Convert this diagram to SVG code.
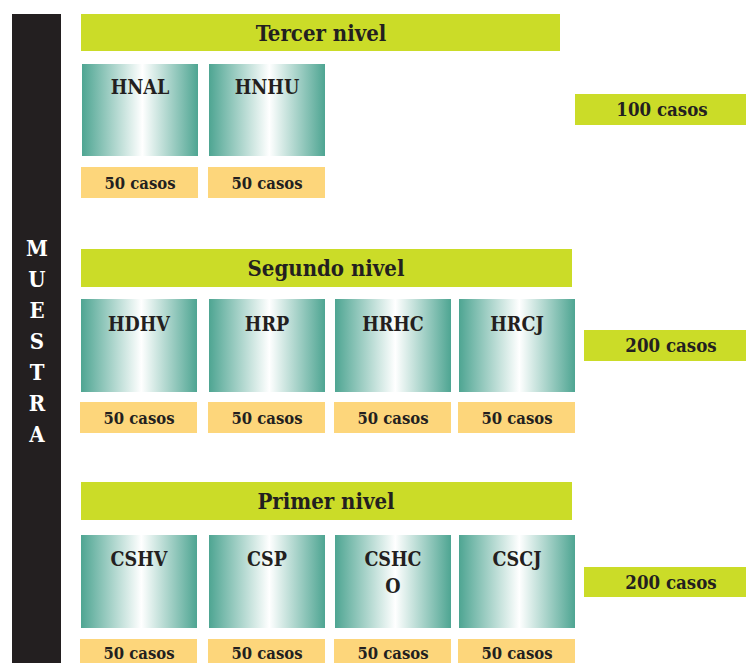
<svg xmlns="http://www.w3.org/2000/svg" width="746" height="663" viewBox="0 0 746 663">
  <defs>
    <linearGradient id="teal" x1="0" y1="0" x2="1" y2="0">
      <stop offset="0" stop-color="#4ea592"/>
      <stop offset="0.52" stop-color="#ffffff"/>
      <stop offset="1" stop-color="#4ea592"/>
    </linearGradient>
    <style>
      text { font-family: "DejaVu Serif Condensed", "DejaVu Serif", serif; font-weight: bold; font-stretch: condensed; fill: #231f20; text-anchor: middle; }
      .lvl { fill: #cbdc28; }
      .cnt { fill: #fdd67b; }
      .hosp { fill: url(#teal); }
      .t-lvl { font-size: 22px; }
      .t-h { font-size: 19.5px; }
      .t-c { font-size: 16.5px; }
      .t-tot { font-size: 18.5px; }
      .t-side { font-size: 22px; fill: #ffffff; }
    </style>
  </defs>

  <rect width="746" height="663" fill="#ffffff"/>

  <!-- side label -->
  <g id="muestra">
    <rect x="12" y="14" width="49" height="649" fill="#231f20"/>
    <text class="t-side" x="37" y="256">M</text>
    <text class="t-side" x="37" y="287">U</text>
    <text class="t-side" x="37" y="318">E</text>
    <text class="t-side" x="37" y="349">S</text>
    <text class="t-side" x="37" y="380">T</text>
    <text class="t-side" x="37" y="411">R</text>
    <text class="t-side" x="37" y="442">A</text>
  </g>

  <!-- Tercer nivel -->
  <g id="tercer-nivel">
    <rect class="lvl" x="81" y="14" width="479" height="37"/>
    <text class="t-lvl" x="321" y="41">Tercer nivel</text>
  </g>
  <g id="hnal">
    <rect class="hosp" x="82" y="64" width="116" height="92"/>
    <text class="t-h" x="140" y="94">HNAL</text>
    <rect class="cnt" x="81" y="167" width="117" height="31"/>
    <text class="t-c" x="140" y="189">50 casos</text>
  </g>
  <g id="hnhu">
    <rect class="hosp" x="209" y="64" width="116" height="92"/>
    <text class="t-h" x="267" y="94">HNHU</text>
    <rect class="cnt" x="208" y="167" width="117" height="31"/>
    <text class="t-c" x="267" y="189">50 casos</text>
  </g>
  <g id="total-tercer">
    <rect class="lvl" x="575" y="94" width="171" height="31"/>
    <text class="t-tot" x="662" y="116">100 casos</text>
  </g>

  <!-- Segundo nivel -->
  <g id="segundo-nivel">
    <rect class="lvl" x="81" y="249" width="491" height="38"/>
    <text class="t-lvl" x="326" y="276">Segundo nivel</text>
  </g>
  <g id="hdhv">
    <rect class="hosp" x="81" y="299" width="116" height="93"/>
    <text class="t-h" x="139" y="331">HDHV</text>
    <rect class="cnt" x="80" y="402" width="117" height="31"/>
    <text class="t-c" x="139" y="424">50 casos</text>
  </g>
  <g id="hrp">
    <rect class="hosp" x="209" y="299" width="116" height="93"/>
    <text class="t-h" x="267" y="331">HRP</text>
    <rect class="cnt" x="208" y="402" width="117" height="31"/>
    <text class="t-c" x="267" y="424">50 casos</text>
  </g>
  <g id="hrhc">
    <rect class="hosp" x="335" y="299" width="116" height="93"/>
    <text class="t-h" x="393" y="331">HRHC</text>
    <rect class="cnt" x="334" y="402" width="117" height="31"/>
    <text class="t-c" x="393" y="424">50 casos</text>
  </g>
  <g id="hrcj">
    <rect class="hosp" x="459" y="299" width="116" height="93"/>
    <text class="t-h" x="517" y="331">HRCJ</text>
    <rect class="cnt" x="458" y="402" width="117" height="31"/>
    <text class="t-c" x="517" y="424">50 casos</text>
  </g>
  <g id="total-segundo">
    <rect class="lvl" x="584" y="330" width="162" height="31"/>
    <text class="t-tot" x="671" y="352">200 casos</text>
  </g>

  <!-- Primer nivel -->
  <g id="primer-nivel">
    <rect class="lvl" x="81" y="482" width="491" height="38"/>
    <text class="t-lvl" x="326" y="509">Primer nivel</text>
  </g>
  <g id="cshv">
    <rect class="hosp" x="81" y="535" width="116" height="93"/>
    <text class="t-h" x="139" y="566">CSHV</text>
    <rect class="cnt" x="80" y="639" width="117" height="24"/>
    <text class="t-c" x="139" y="659">50 casos</text>
  </g>
  <g id="csp">
    <rect class="hosp" x="209" y="535" width="116" height="93"/>
    <text class="t-h" x="267" y="566">CSP</text>
    <rect class="cnt" x="208" y="639" width="117" height="24"/>
    <text class="t-c" x="267" y="659">50 casos</text>
  </g>
  <g id="cshco">
    <rect class="hosp" x="335" y="535" width="116" height="93"/>
    <text class="t-h" x="393" y="566">CSHC</text>
    <text class="t-h" x="393" y="593">O</text>
    <rect class="cnt" x="334" y="639" width="117" height="24"/>
    <text class="t-c" x="393" y="659">50 casos</text>
  </g>
  <g id="cscj">
    <rect class="hosp" x="459" y="535" width="116" height="93"/>
    <text class="t-h" x="517" y="566">CSCJ</text>
    <rect class="cnt" x="458" y="639" width="117" height="24"/>
    <text class="t-c" x="517" y="659">50 casos</text>
  </g>
  <g id="total-primer">
    <rect class="lvl" x="584" y="567" width="162" height="30"/>
    <text class="t-tot" x="671" y="589">200 casos</text>
  </g>

  <!-- no connectors are drawn between the boxes -->
  <g id="connectors"/>
</svg>
